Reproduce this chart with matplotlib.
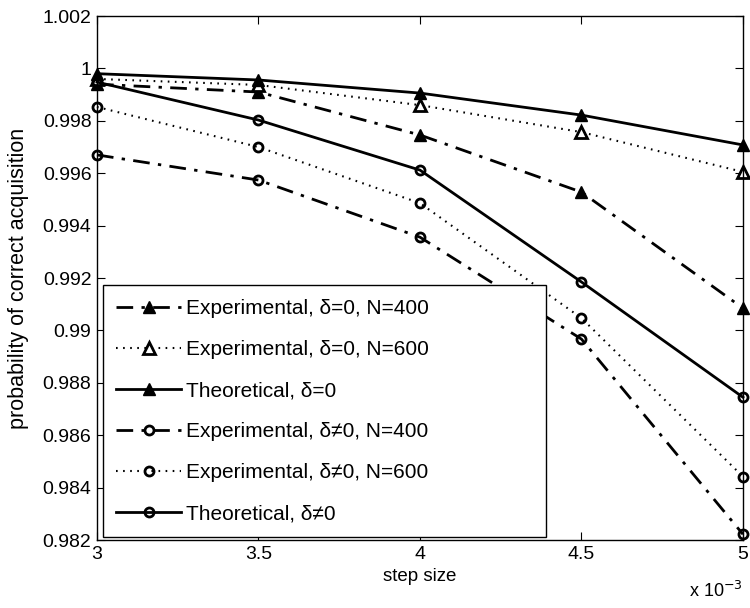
import matplotlib
matplotlib.use("Agg")
import matplotlib.pyplot as plt
from matplotlib.ticker import FuncFormatter, MultipleLocator

plt.rcParams["font.family"] = ["Liberation Sans", "DejaVu Sans"]

# step size (x 10^-3)
step = [3.0, 3.5, 4.0, 4.5, 5.0]

# probability of correct acquisition
exp0_400 = [0.9994, 0.9991, 0.99746, 0.99528, 0.99085]
exp0_600 = [0.9996, 0.99937, 0.9986, 0.99757, 0.99605]
theo0 = [0.9998, 0.99956, 0.99906, 0.99822, 0.99708]
expd_400 = [0.9967, 0.99574, 0.99356, 0.98967, 0.98222]
expd_600 = [0.99853, 0.997, 0.99486, 0.99047, 0.98442]
theod = [0.99948, 0.99803, 0.99612, 0.99185, 0.98745]

labels = ["Experimental, δ=0, N=400", "Experimental, δ=0, N=600", "Theoretical, δ=0",
          "Experimental, δ≠0, N=400", "Experimental, δ≠0, N=600", "Theoretical, δ≠0"]

fig = plt.figure(figsize=(7.5, 6.08), dpi=100)
ax = fig.add_axes([0.1293, 0.1118, 0.8613, 0.8618])

dashdot = (0, (6, 3, 1.2, 3))
dotted = (0, (0.8, 2.6))

ax.plot(step, exp0_400, color="k", lw=2, linestyle=dashdot, marker="^", ms=9,
        mfc="k", mec="k", label=labels[0], clip_on=False)
ax.plot(step, exp0_600, color="k", lw=1.5, linestyle=dotted, marker="^", ms=9,
        mfc="white", mec="k", mew=2, label=labels[1], clip_on=False)
ax.plot(step, theo0, color="k", lw=2, linestyle="-", marker="^", ms=9,
        mfc="k", mec="k", label=labels[2], clip_on=False)
ax.plot(step, expd_400, color="k", lw=2, linestyle=dashdot, marker="o", ms=6.5,
        mfc="none", mec="k", mew=2, label=labels[3], clip_on=False)
ax.plot(step, expd_600, color="k", lw=1.5, linestyle=dotted, marker="o", ms=6.5,
        mfc="none", mec="k", mew=2, label=labels[4], clip_on=False)
ax.plot(step, theod, color="k", lw=2, linestyle="-", marker="o", ms=6.5,
        mfc="none", mec="k", mew=2, label=labels[5], clip_on=False)

ax.set_xlim(3, 5)
ax.set_ylim(0.982, 1.002)
ax.xaxis.set_major_locator(MultipleLocator(0.5))
ax.yaxis.set_major_locator(MultipleLocator(0.002))
ax.xaxis.set_major_formatter(FuncFormatter(lambda v, p: "%g" % v))
ax.yaxis.set_major_formatter(FuncFormatter(lambda v, p: "%g" % round(v, 4)))
ax.tick_params(direction="in", top=True, right=True, length=6, labelsize=14, pad=4)
for s in ax.spines.values():
    s.set_linewidth(1)

ax.set_xlabel("step size", fontsize=13.5, labelpad=4)
ax.set_ylabel("probability of correct acquisition", fontsize=15.5)
ax.yaxis.set_label_coords(-0.106, 0.5)
ax.text(1.0, -0.078, r"x 10$^{-3}$", transform=ax.transAxes, ha="right", va="top",
        fontsize=13)

leg = ax.legend(loc="lower left", bbox_to_anchor=(0.009, 0.006, 0.686, 0.47),
                mode="expand", borderaxespad=0,
                fontsize=15, fancybox=False, framealpha=1, edgecolor="k",
                handlelength=3.1, labelspacing=1.06, borderpad=0.65, handletextpad=0.25)
leg.get_frame().set_linewidth(1)

fig.savefig("out.png", dpi=100)
